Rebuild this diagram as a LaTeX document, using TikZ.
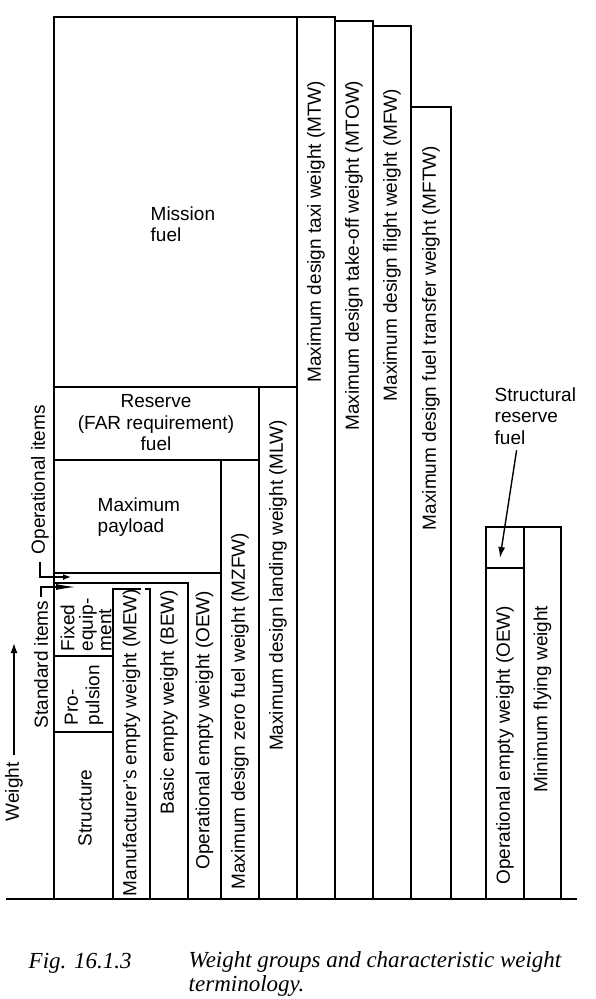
\documentclass[tikz,border=0pt]{standalone}
\usepackage{fontspec}
\setsansfont{Liberation Sans}
\newfontfamily\capfont{Liberation Serif}
\usetikzlibrary{arrows.meta}

\begin{document}
\begin{tikzpicture}[x=1pt, y=-1pt, line width=1.4pt,
  lbl/.style={font=\sffamily\fontsize{19}{21.5}\selectfont, inner sep=0pt},
  vlbl/.style={lbl, rotate=90, anchor=east},
  captxt/.style={font=\capfont\itshape\fontsize{23}{24}\selectfont, inner sep=0pt}]
\useasboundingbox (0,0) rectangle (595,999);
% outline and mission fuel
\draw (54,899) -- (54,17) -- (335,17) -- (335,899);
\draw (297,899) -- (297,17);
% structure, propulsion, fixed equipment, MEW
\draw (54,732) -- (113,732);
\draw (54,656) -- (113,656);
\draw (113,899) -- (113,589) -- (141,589);
\draw (145,589) -- (150,589) -- (150,899);
% BEW and OEW
\draw (54,583) -- (188,583) -- (188,899);
\draw (54,573) -- (221,573);
% payload, MZFW, reserve, MLW
\draw (54,460) -- (259,460);
\draw (221,899) -- (221,460);
\draw (54,387) -- (297,387);
\draw (259,899) -- (259,387);
% MTOW, MFW, MFTW
\draw (335,21) -- (373,21) -- (373,899);
\draw (373,26) -- (411,26) -- (411,899);
\draw (411,107) -- (451,107) -- (451,899);
% OEW with structural reserve, minimum flying weight
\draw (486,899) rectangle (561,527);
\draw (524,527) -- (524,899);
\draw (486,568) -- (524,568);
% baseline
\draw[line width=2.4pt] (6,899) -- (577,899);

% block texts
\node[lbl, align=left, anchor=west] (mission) at (150,224) {Mission\\fuel};
\node[lbl, align=center] (reserve) at (156,423) {Reserve\\(FAR requirement)\\fuel};
\node[lbl, align=left, anchor=west] (payload) at (97,517) {Maximum\\payload};
\node[lbl, rotate=90] (structure) at (85,808) {Structure};
\node[lbl, rotate=90, align=left, anchor=west] (propulsion) at (84,726) {Pro-\\pulsion};
\node[lbl, rotate=90, align=left, anchor=west, font=\sffamily\fontsize{19}{18.5}\selectfont] (fixedeq) at (86,652) {Fixed\\equip-\\ment};

% column labels
\node[vlbl] (mew) at (131.5,588) {Manufacturer’s empty weight (MEW)};
\node[vlbl] (bew) at (169,589) {Basic empty weight (BEW)};
\node[vlbl] (oew) at (204.5,590) {Operational empty weight (OEW)};
\node[vlbl] (mzfw) at (240,532) {Maximum design zero fuel weight (MZFW)};
\node[vlbl] (mlw) at (278,419) {Maximum design landing weight (MLW)};
\node[vlbl] (mtw) at (316,80) {Maximum design taxi weight (MTW)};
\node[vlbl] (mtow) at (354,80) {Maximum design take-off weight (MTOW)};
\node[vlbl] (mfw) at (392,88) {Maximum design flight weight (MFW)};
\node[vlbl] (mftw) at (431,145) {Maximum design fuel transfer weight (MFTW)};
\node[vlbl] (oewr) at (505,605) {Operational empty weight (OEW)};
\node[vlbl] (minfly) at (542.5,605) {Minimum flying weight};

% side notes with leaders
\node[lbl, rotate=90, anchor=west] (opitems) at (40,555) {Operational items};
\node[vlbl] (stditems) at (41,600) {Standard items};
\node[lbl, rotate=90, anchor=west] (weight) at (14,822) {Weight};
\node[lbl, align=left, anchor=north west] (srf) at (494,387) {Structural\\reserve\\fuel};
\coordinate (optip) at (71,577);
\coordinate (stdtip) at (76,587);
\coordinate (wtip) at (14,643);
\coordinate (srftip) at (500,558);
\draw[-{Latex[length=8pt,width=6pt]}, shorten <=7pt] (opitems.west) |- (optip);
\draw[-{Latex[length=20pt,width=6pt]}, shorten <=3pt] (stditems.east) |- (stdtip);
\draw[-{Latex[length=10pt,width=7pt]}, shorten <=7pt] (weight.east) -- (wtip);
\draw[-{Latex[length=11pt,width=7pt]}, shorten <=5pt] ([xshift=-18pt]srf.south) -- (srftip);

% caption
\node[captxt, anchor=base west] (fignum) at (28,968) {Fig. 16.1.3};
\node[captxt, align=left, anchor=north west] (figtext) at (188,951) {Weight groups and characteristic weight\\terminology.};
\end{tikzpicture}
\end{document}
